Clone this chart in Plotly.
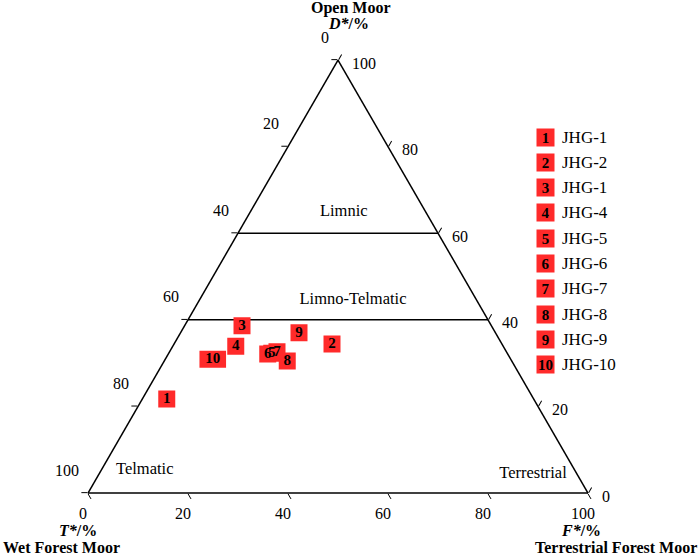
import plotly.graph_objects as go

# sample composition (percent): D* open moor, T* wet forest moor, F* terrestrial forest moor
samples = ["1", "2", "3", "4", "5", "6", "7", "8", "9", "10"]
D = [21.7, 34.4, 38.6, 33.9, 32.3, 32.1, 32.6, 30.5, 37.0, 30.9]
T = [73.4, 34.0, 49.9, 53.5, 47.1, 48.0, 45.9, 44.9, 39.3, 59.6]
F = [4.9, 31.6, 11.5, 12.6, 20.6, 19.9, 21.5, 24.6, 23.7, 9.5]

legend_names = ["JHG-1", "JHG-2", "JHG-1", "JHG-4", "JHG-5",
                "JHG-6", "JHG-7", "JHG-8", "JHG-9", "JHG-10"]

# facies boundaries (D* value)
boundaries = [60, 40]

# facies labels
zone_names = ["Limnic", "Limno-Telmatic", "Telmatic", "Terrestrial"]
zone_D = [64.9, 44.6, 5.3, 4.4]
zone_T = [16.4, 24.7, 86.0, 8.8]
zone_F = [18.7, 30.7, 8.7, 86.8]

ticks = [0, 20, 40, 60, 80, 100]

FONT = "Liberation Serif"
RED = "#ff2a2a"
W, H = 699, 556
NB = "\u00a0"


def px(x):
    return x / W


def py(y):
    return 1 - y / H


fig = go.Figure()

for b in boundaries:
    fig.add_trace(go.Scatterternary(
        a=[b, b], b=[100 - b, 0], c=[0, 100 - b],
        mode="lines", line=dict(color="black", width=1.5),
        hoverinfo="skip", showlegend=False))

fig.add_trace(go.Scatterternary(
    a=zone_D, b=zone_T, c=zone_F, text=zone_names,
    mode="text", textfont=dict(family=FONT, size=16.5, color="black"),
    hoverinfo="skip", showlegend=False))

symbols = ["line-ew" if len(s) > 1 else "square" for s in samples]
sizes = [19 if len(s) > 1 else 17 for s in samples]
widths = [17 if len(s) > 1 else 0 for s in samples]
fig.add_trace(go.Scatterternary(
    a=D, b=T, c=F, text=["<b>%s</b>" % s for s in samples],
    mode="markers+text",
    marker=dict(symbol=symbols, size=sizes, color=RED, opacity=1,
                line=dict(color=RED, width=widths)),
    textposition="middle center",
    textfont=dict(family=FONT, size=15, color="black"),
    showlegend=False))

axis_common = dict(
    tickvals=ticks, ticks="outside", ticklen=6, tickwidth=1.2, tickcolor="black",
    tickfont=dict(family=FONT, size=16, color="black"),
    showgrid=False, linecolor="black", linewidth=1.5, showline=True,
    title=dict(text=""),
)
rev = [str(t) for t in ticks[::-1]]

fig.update_layout(
    width=W, height=H,
    margin=dict(l=0, r=0, t=0, b=0),
    paper_bgcolor="white",
    ternary=dict(
        sum=100,
        bgcolor="white",
        domain=dict(x=[px(88), px(588)], y=[py(493), py(60)]),
        # nudge the labels the way the original figure sets them off its ticks
        aaxis=dict(ticktext=[t + "<br> <br> " for t in rev], **axis_common),
        baxis=dict(ticktext=[t + NB * 4 for t in rev], **axis_common),
        caxis=dict(ticktext=[" <br>" + NB * 2 + t for t in rev], **axis_common),
    ),
)

# axis titles
titles = [
    ("<b>Open Moor</b>", 351, 8, "center"),
    ("<b><i>D*</i>/%</b>", 348, 24, "center"),
    ("<b><i>T*</i>/%</b>", 78, 530, "center"),
    ("<b>Wet Forest Moor</b>", 2, 547, "left"),
    ("<b><i>F*</i>/%</b>", 581, 530, "center"),
    ("<b>Terrestrial Forest Moor</b>", 698, 547, "right"),
]
for txt, x, y, anc in titles:
    fig.add_annotation(text=txt, x=px(x), y=py(y), xref="paper", yref="paper",
                       xanchor=anc, yanchor="middle", showarrow=False, borderpad=0,
                       font=dict(family=FONT, size=16, color="black"))

# legend
for i, (s, name) in enumerate(zip(samples, legend_names)):
    y = 137 + i * 25.3
    fig.add_annotation(text="<b>%s</b>" % s, x=px(545), y=py(y),
                       xref="paper", yref="paper", xanchor="center", yanchor="middle",
                       showarrow=False, bgcolor=RED, width=17, height=17, borderpad=0,
                       font=dict(family=FONT, size=15, color="black"))
    fig.add_annotation(text=name, x=px(561), y=py(y),
                       xref="paper", yref="paper", xanchor="left", yanchor="middle",
                       showarrow=False, borderpad=0,
                       font=dict(family=FONT, size=17, color="black"))

fig.write_html("out.html", config={"displayModeBar": False},
               post_script="document.body.style.margin='0';")
